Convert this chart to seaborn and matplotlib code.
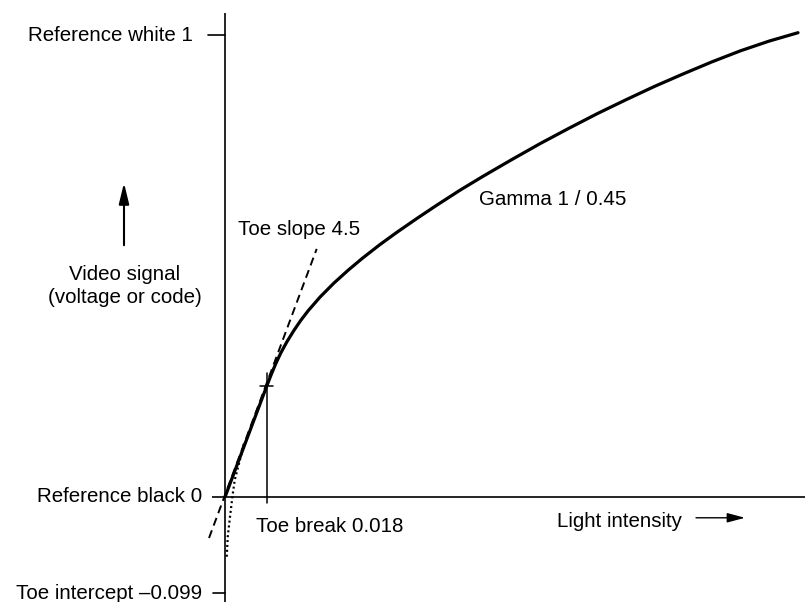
import matplotlib
matplotlib.use("Agg")
import matplotlib.pyplot as plt
import seaborn as sns

# Transfer curve: linear toe from the origin up to the toe break, then the
# power segment up to reference white (schematic, not to scale).
light = [0.0, 0.0728, 0.080, 0.088, 0.097, 0.108, 0.120, 0.132, 0.145, 0.166,
         0.190, 0.215, 0.240, 0.270, 0.300, 0.335, 0.370, 0.410, 0.450, 0.500,
         0.550, 0.600, 0.650, 0.700, 0.750, 0.800, 0.850, 0.900, 0.950, 1.000]
signal = [0.0, 0.240, 0.263, 0.287, 0.311, 0.336, 0.360, 0.382, 0.403, 0.433,
          0.463, 0.491, 0.517, 0.546, 0.573, 0.603, 0.632, 0.664, 0.694, 0.730,
          0.765, 0.798, 0.830, 0.860, 0.889, 0.916, 0.942, 0.966, 0.987, 1.005]

# Power segment continued below the toe break down toward the intercept
ext_light = [0.033, 0.026, 0.017, 0.0128, 0.0087, 0.0047, 0.003]
ext_signal = [0.115, 0.080, 0.037, 0.0, -0.043, -0.087, -0.130]

# Straight line of the toe slope, extended both ways
tangent_light = [-0.0279, 0.160]
tangent_signal = [-0.0887, 0.537]

# Toe break point
toe_break_light = 0.0728
toe_break_signal = 0.240

# Labelled levels on the signal axis
level_labels = ["Reference white 1", "Reference black 0", "Toe intercept \u20130.099"]
level_values = [1.0, 0.0, -0.208]

sns.set_theme(style="white")
plt.rcParams["font.family"] = ["Liberation Sans", "DejaVu Sans"]

fig = plt.figure(figsize=(8.05, 6.02), dpi=100)
ax = fig.add_axes([0, 0, 1, 1])
ax.set_xlim(-0.3927, 1.0122)
ax.set_ylim(-0.2273, 1.0758)
ax.axis("off")

ink = "black"
fs = 14.8

# Axes drawn as plain lines
ax.plot([0, 0], [-0.23, 1.048], color=ink, lw=1.2, solid_capstyle="butt")
ax.plot([-0.0227, 1.02], [0, 0], color=ink, lw=1.2, solid_capstyle="butt")

# Level ticks and their labels
tick_len = [0.030, 0.0227, 0.021]
for lab, val, tl in zip(level_labels, level_values, tick_len):
    if val != 0.0:
        ax.plot([-tl, 0], [val, val], color=ink, lw=1.2)
    ax.text(-0.040 if val != 1.0 else -0.0558, val, lab, ha="right",
            va="center", fontsize=fs, color=ink)

# Toe break marker
ax.plot([toe_break_light, toe_break_light], [-0.013, 0.268], color=ink, lw=1.1)
ax.plot([0.0611, 0.0838], [toe_break_signal, toe_break_signal], color=ink, lw=1.1)

# Curves
sns.lineplot(x=tangent_light, y=tangent_signal, ax=ax, color=ink, lw=1.4,
             sort=False, estimator=None, linestyle=(0, (4.2, 2.6)), zorder=2)
sns.lineplot(x=ext_light, y=ext_signal, ax=ax, color=ink, lw=1.6,
             sort=False, estimator=None, linestyle=(0, (0.9, 1.3)), zorder=2)
sns.lineplot(x=light, y=signal, ax=ax, color=ink, lw=2.3, sort=False,
             estimator=None, zorder=3, solid_joinstyle="round",
             solid_capstyle="round")

# Annotations
ax.text(0.054, -0.063, "Toe break 0.018", ha="left", va="center",
        fontsize=fs, color=ink)
ax.text(0.579, -0.052, "Light intensity", ha="left", va="center",
        fontsize=fs, color=ink)
ax.annotate("", xy=(0.9075, -0.045), xytext=(0.822, -0.045),
            arrowprops=dict(arrowstyle="-|>,head_length=0.6,head_width=0.16",
                            color=ink, lw=1.0, mutation_scale=18,
                            shrinkA=0, shrinkB=0))
ax.text(-0.1745, 0.457, "Video signal\n(voltage or code)", ha="center",
        va="center", fontsize=fs, color=ink, linespacing=1.25)
ax.annotate("", xy=(-0.1763, 0.680), xytext=(-0.1763, 0.545),
            arrowprops=dict(arrowstyle="-|>,head_length=0.7,head_width=0.17",
                            color=ink, lw=1.5, mutation_scale=18,
                            shrinkA=0, shrinkB=0))
ax.text(0.0227, 0.580, "Toe slope 4.5", ha="left", va="center",
        fontsize=fs, color=ink)
ax.text(0.443, 0.643, "Gamma 1 / 0.45", ha="left", va="center",
        fontsize=fs, color=ink)

fig.savefig("out.png", dpi=100, facecolor="white")
